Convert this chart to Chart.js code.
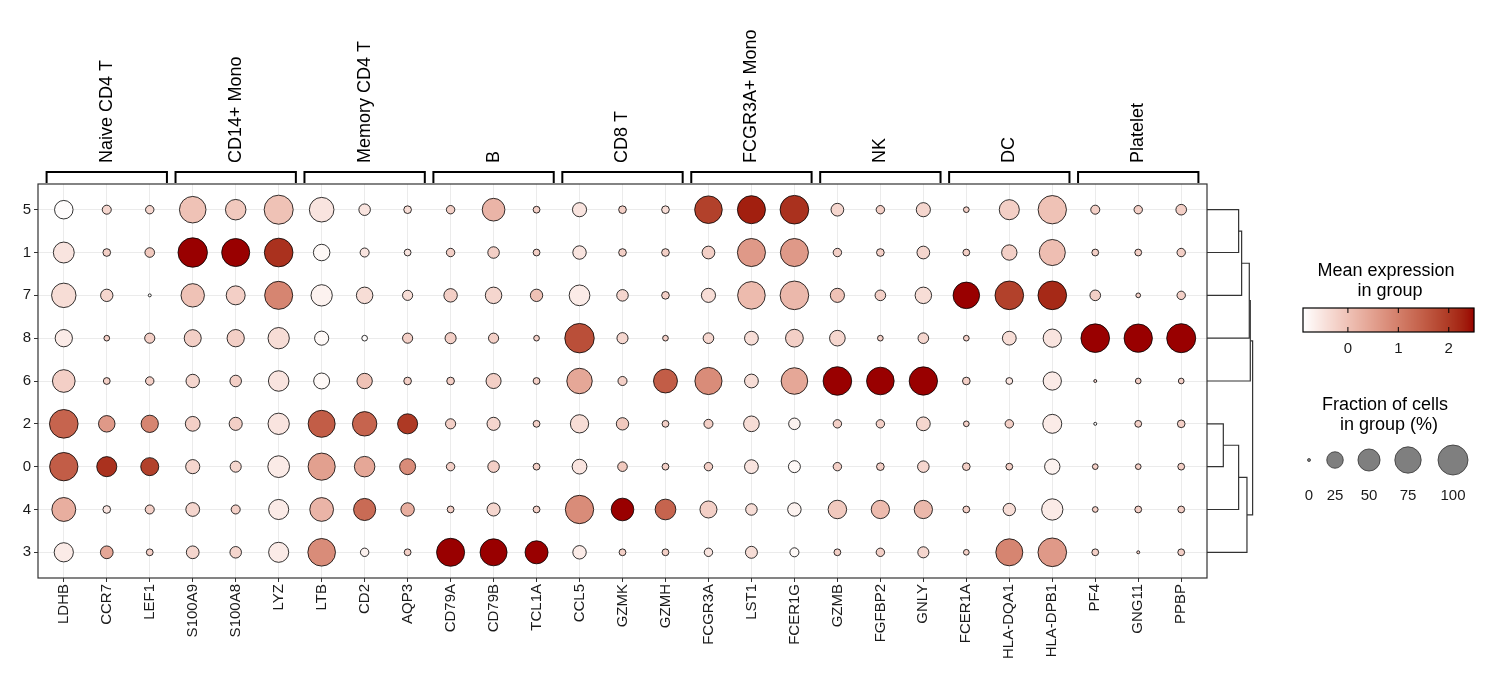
<!DOCTYPE html>
<html>
<head>
<meta charset="utf-8">
<script src="https://cdn.jsdelivr.net/npm/chart.js@4.4.1/dist/chart.umd.min.js"></script>
<style>
  html, body { margin: 0; padding: 0; background: #fff; }
  #wrap { width: 1490px; height: 696px; }
</style>
</head>
<body>
<div id="wrap"><canvas id="dotplot"></canvas></div>
<script>
// genes along x, cell type groups of 3 genes, clusters down y (top to bottom)
const genes = ["LDHB","CCR7","LEF1","S100A9","S100A8","LYZ","LTB","CD2","AQP3",
  "CD79A","CD79B","TCL1A","CCL5","GZMK","GZMH","FCGR3A","LST1","FCER1G",
  "GZMB","FGFBP2","GNLY","FCER1A","HLA-DQA1","HLA-DPB1","PF4","GNG11","PPBP"];
const cellTypes = ["Naive CD4 T","CD14+ Mono","Memory CD4 T","B","CD8 T","FCGR3A+ Mono","NK","DC","Platelet"];
const clusters = ["5","1","7","8","6","2","0","4","3"];

// fraction of cells expressing (%), rows follow clusters
const pctExp = [
  [33,5,4,76,42,93,64,10,3, 4,53,2,17,3,3,83,86,90, 13,4,17,1,40,88,5,4,8],
  [44,3,6,96,86,90,25,5,2, 4,10,2,15,3,3,13,86,86, 4,3,13,2,21,73,2,2,4],
  [63,12,0,57,35,86,46,25,7, 15,25,12,43,10,3,17,83,90, 17,8,25,76,90,90,8,0.4,4],
  [28,1,7,27,28,46,17,1,7, 9,7,1,96,9,1,8,16,30, 22,1,8,1,16,32,90,88,93],
  [53,2,4,15,10,42,23,21,3, 3,20,2,69,5,60,80,16,76, 90,83,88,3,2,32,0,1,1],
  [90,25,28,19,14,46,79,63,40, 7,14,2,32,12,2,5,22,10, 4,4,16,1,4,35,0,2,3],
  [88,40,31,17,9,48,80,42,23, 4,10,2,19,6,2,4,16,11, 4,3,10,3,2,21,1,1,2],
  [60,3,5,16,5,40,59,50,15, 2,14,2,88,53,43,27,10,15, 33,32,32,2,12,46,1,2,2],
  [36,13,2,13,10,40,83,4,2, 86,79,55,15,2,2,4,11,5, 2,4,9,1,79,90,2,0,2]
];

// scaled mean expression, rows follow clusters
const avgExp = [
  [-0.85,-0.3,-0.3,0,-0.1,0,-0.5,-0.5,-0.4, -0.2,0.2,-0.2,-0.5,-0.2,-0.4,1.9,2.3,2.1, -0.3,-0.2,-0.3,-0.2,-0.2,0,-0.2,-0.2,-0.2],
  [-0.5,-0.2,-0.1,2.5,2.5,2.1,-0.8,-0.5,-0.5, -0.2,-0.2,-0.2,-0.5,-0.2,-0.2,-0.2,0.6,0.6, -0.2,-0.2,-0.3,-0.2,-0.2,0.05,-0.2,-0.2,-0.2],
  [-0.4,-0.3,-0.85,0,-0.2,0.9,-0.7,-0.4,-0.4, -0.2,-0.3,0,-0.6,-0.3,-0.2,-0.4,0.1,0.15, 0,-0.2,-0.4,2.5,1.9,2.2,-0.2,-0.2,-0.2],
  [-0.6,-0.2,-0.2,-0.2,-0.2,-0.4,-0.8,-0.85,-0.2, -0.2,-0.2,-0.2,1.7,-0.3,-0.2,-0.3,-0.4,-0.2, -0.3,-0.2,-0.3,-0.2,-0.4,-0.5,2.5,2.5,2.5],
  [-0.2,-0.2,-0.2,-0.3,-0.2,-0.5,-0.8,0,-0.2, -0.2,-0.2,-0.2,0.4,-0.2,1.5,0.8,-0.4,0.4, 2.5,2.5,2.5,-0.2,-0.5,-0.6,-0.2,-0.2,-0.2],
  [1.4,0.6,0.9,-0.2,-0.2,-0.5,1.5,1.4,2.0, -0.2,-0.3,-0.2,-0.4,-0.1,-0.2,-0.2,-0.4,-0.7, -0.2,-0.2,-0.3,-0.2,-0.2,-0.6,-0.85,-0.2,-0.2],
  [1.5,2.1,1.9,-0.3,-0.3,-0.6,0.5,0.4,0.8, -0.2,-0.2,-0.2,-0.5,-0.1,-0.2,-0.2,-0.5,-0.8, -0.2,-0.2,-0.3,-0.2,-0.2,-0.7,-0.2,-0.2,-0.2],
  [0.3,-0.5,-0.2,-0.3,-0.2,-0.6,0.2,1.3,0.3, -0.2,-0.3,-0.2,0.8,2.5,1.4,-0.2,-0.4,-0.7, -0.1,0.1,0.15,-0.2,-0.4,-0.6,-0.2,-0.2,-0.2],
  [-0.6,0.4,-0.2,-0.3,-0.3,-0.6,0.8,-0.7,-0.2, 2.5,2.5,2.5,-0.6,-0.2,-0.2,-0.5,-0.4,-0.8, -0.2,-0.2,-0.3,-0.2,0.9,0.6,-0.2,-0.2,-0.2]
];

// colour scale limits and legend values
const expRange = [-0.89, 2.5];
const expTicks = [0, 1, 2];
const pctLegend = [0, 25, 50, 75, 100];

// cluster dendrogram: [left, right, height], ids "n0".. refer to earlier merges
const dendroMerges = [
  ["5", "1", 0.95],
  ["n0", "7", 1.04],
  ["n1", "8", 1.27],
  ["n2", "6", 1.30],
  ["2", "0", 0.49],
  ["n4", "4", 0.95],
  ["n5", "3", 1.20],
  ["n3", "n6", 1.37]
];

const FONT = '"Liberation Sans", Arial, sans-serif';

// --- colour: lab interpolation white -> dark red
function lin(c) { c /= 255; return c <= 0.04045 ? c / 12.92 : Math.pow((c + 0.055) / 1.055, 2.4); }
function gam(c) { const v = c <= 0.0031308 ? 12.92 * c : 1.055 * Math.pow(c, 1 / 2.4) - 0.055; return Math.round(Math.max(0, Math.min(1, v)) * 255); }
function toLab(hex) {
  const r = lin(parseInt(hex.slice(1, 3), 16)), g = lin(parseInt(hex.slice(3, 5), 16)), b = lin(parseInt(hex.slice(5, 7), 16));
  const X = (0.4124 * r + 0.3576 * g + 0.1805 * b) / 0.95047;
  const Y = 0.2126 * r + 0.7152 * g + 0.0722 * b;
  const Z = (0.0193 * r + 0.1192 * g + 0.9505 * b) / 1.08883;
  const f = t => t > 0.008856 ? Math.cbrt(t) : 7.787 * t + 16 / 116;
  return [116 * f(Y) - 16, 500 * (f(X) - f(Y)), 200 * (f(Y) - f(Z))];
}
function fromLab([L, A, B]) {
  const fy = (L + 16) / 116, fx = fy + A / 500, fz = fy - B / 200;
  const fi = t => t * t * t > 0.008856 ? t * t * t : (t - 16 / 116) / 7.787;
  const X = 0.95047 * fi(fx), Y = fi(fy), Z = 1.08883 * fi(fz);
  const r = 3.2406 * X - 1.5372 * Y - 0.4986 * Z;
  const g = -0.9689 * X + 1.8758 * Y + 0.0415 * Z;
  const b = 0.0557 * X - 0.2040 * Y + 1.0570 * Z;
  return `rgb(${gam(r)},${gam(g)},${gam(b)})`;
}
const labLo = toLab("#FFFFFF"), labHi = toLab("#990000");
function expColor(v) {
  let t = (v - expRange[0]) / (expRange[1] - expRange[0]);
  t = Math.max(0, Math.min(1, t));
  return fromLab(labLo.map((c, i) => c + (labHi[i] - c) * t));
}
// ggplot-like area scale
function pctRadius(p) {
  return 1.5 + 13.5 * Math.sqrt(Math.max(0, p) / 100);
}

const points = [];
clusters.forEach((cl, i) => {
  genes.forEach((g, j) => {
    points.push({ x: j, y: i, pct: pctExp[i][j], exp: avgExp[i][j] });
  });
});

const decor = {
  id: 'decor',
  afterDraw(chart) {
    const { ctx, chartArea: a, scales: { x, y } } = chart;
    ctx.save();

    // panel border
    ctx.strokeStyle = '#333';
    ctx.lineWidth = 1.2;
    ctx.strokeRect(a.left, a.top, a.right - a.left, a.bottom - a.top);

    // cell type brackets and labels
    ctx.strokeStyle = '#000';
    ctx.lineWidth = 2;
    ctx.fillStyle = '#000';
    ctx.font = `18px ${FONT}`;
    cellTypes.forEach((name, g) => {
      const x0 = x.getPixelForValue(3 * g - 0.4);
      const x1 = x.getPixelForValue(3 * g + 2.4);
      const top = a.top - 12;
      ctx.beginPath();
      ctx.moveTo(x0, a.top - 1);
      ctx.lineTo(x0, top);
      ctx.lineTo(x1, top);
      ctx.lineTo(x1, a.top - 1);
      ctx.stroke();
      ctx.save();
      ctx.translate(x.getPixelForValue(3 * g + 1), a.top - 21);
      ctx.rotate(-Math.PI / 2);
      ctx.textAlign = 'left';
      ctx.textBaseline = 'middle';
      ctx.fillText(name, 0, 0);
      ctx.restore();
    });

    // dendrogram
    const pxPerH = 33.3;
    const nodes = {};
    clusters.forEach((c, i) => { nodes[c] = { y: y.getPixelForValue(i), h: 0 }; });
    ctx.strokeStyle = '#333';
    ctx.lineWidth = 1.2;
    dendroMerges.forEach(([l, r, h], k) => {
      const L = nodes[l], R = nodes[r];
      const xh = a.right + h * pxPerH;
      ctx.beginPath();
      ctx.moveTo(a.right + L.h * pxPerH, L.y);
      ctx.lineTo(xh, L.y);
      ctx.lineTo(xh, R.y);
      ctx.lineTo(a.right + R.h * pxPerH, R.y);
      ctx.stroke();
      nodes['n' + k] = { y: (L.y + R.y) / 2, h: h };
    });

    // colour legend
    ctx.fillStyle = '#000';
    ctx.textAlign = 'center';
    ctx.textBaseline = 'middle';
    ctx.font = `18px ${FONT}`;
    ctx.fillText('Mean expression', 1386, 271);
    ctx.fillText('in group', 1390, 291);
    const bx0 = 1303, bx1 = 1474, by0 = 308, by1 = 332;
    const expX = v => bx0 + (v - expRange[0]) / (expRange[1] - expRange[0]) * (bx1 - bx0);
    for (let px = bx0; px < bx1; px++) {
      const v = expRange[0] + (px + 0.5 - bx0) / (bx1 - bx0) * (expRange[1] - expRange[0]);
      ctx.fillStyle = expColor(v);
      ctx.fillRect(px, by0, 1.2, by1 - by0);
    }
    ctx.strokeStyle = '#000';
    ctx.lineWidth = 1.2;
    ctx.strokeRect(bx0, by0, bx1 - bx0, by1 - by0);
    ctx.lineWidth = 1;
    ctx.fillStyle = '#1a1a1a';
    ctx.font = `15px ${FONT}`;
    expTicks.forEach(v => {
      const px = expX(v);
      ctx.beginPath();
      ctx.moveTo(px, by0); ctx.lineTo(px, by0 + 5);
      ctx.moveTo(px, by1); ctx.lineTo(px, by1 - 5);
      ctx.stroke();
      ctx.fillText(String(v), px, 349);
    });

    // size legend
    ctx.fillStyle = '#000';
    ctx.font = `18px ${FONT}`;
    ctx.fillText('Fraction of cells', 1385, 405);
    ctx.fillText('in group (%)', 1389, 425);
    const cx = [1309, 1335, 1369, 1408, 1453];
    ctx.font = `15px ${FONT}`;
    pctLegend.forEach((p, i) => {
      ctx.beginPath();
      ctx.arc(cx[i], 460, pctRadius(p), 0, Math.PI * 2);
      ctx.fillStyle = '#7F7F7F';
      ctx.fill();
      ctx.strokeStyle = '#333';
      ctx.lineWidth = 0.8;
      ctx.stroke();
      ctx.fillStyle = '#1a1a1a';
      ctx.fillText(String(p), cx[i], 496);
    });

    ctx.restore();
  }
};

new Chart(document.getElementById('dotplot'), {
  type: 'bubble',
  data: {
    datasets: [{
      data: points,
      radius: ctx => pctRadius(ctx.raw.pct),
      backgroundColor: ctx => expColor(ctx.raw.exp),
      borderColor: '#000',
      borderWidth: 0.8
    }]
  },
  options: {
    responsive: true,
    maintainAspectRatio: false,
    animation: false,
    events: [],
    layout: { autoPadding: false, padding: { top: 184, right: 283, left: 0, bottom: 0 } },
    plugins: { legend: { display: false }, tooltip: { enabled: false } },
    scales: {
      x: {
        type: 'linear', min: -0.6, max: 26.6,
        afterBuildTicks: s => { s.ticks = genes.map((g, i) => ({ value: i })); },
        afterFit: s => { s.height = 118; },
        ticks: {
          autoSkip: false, minRotation: 90, maxRotation: 90, padding: 2,
          color: '#1a1a1a', font: { family: FONT, size: 15 },
          callback: v => genes[v]
        },
        grid: { color: '#EBEBEB', lineWidth: 1, tickLength: 4, tickColor: '#333' },
        border: { display: false }
      },
      y: {
        type: 'linear', min: -0.6, max: 8.6, reverse: true,
        afterBuildTicks: s => { s.ticks = clusters.map((c, i) => ({ value: i })); },
        afterFit: s => { s.width = 38; },
        ticks: {
          padding: 3, color: '#1a1a1a', font: { family: FONT, size: 15 },
          callback: v => clusters[v]
        },
        grid: { color: '#EBEBEB', lineWidth: 1, tickLength: 4, tickColor: '#333' },
        border: { display: false }
      }
    }
  },
  plugins: [decor]
});
</script>
</body>
</html>
